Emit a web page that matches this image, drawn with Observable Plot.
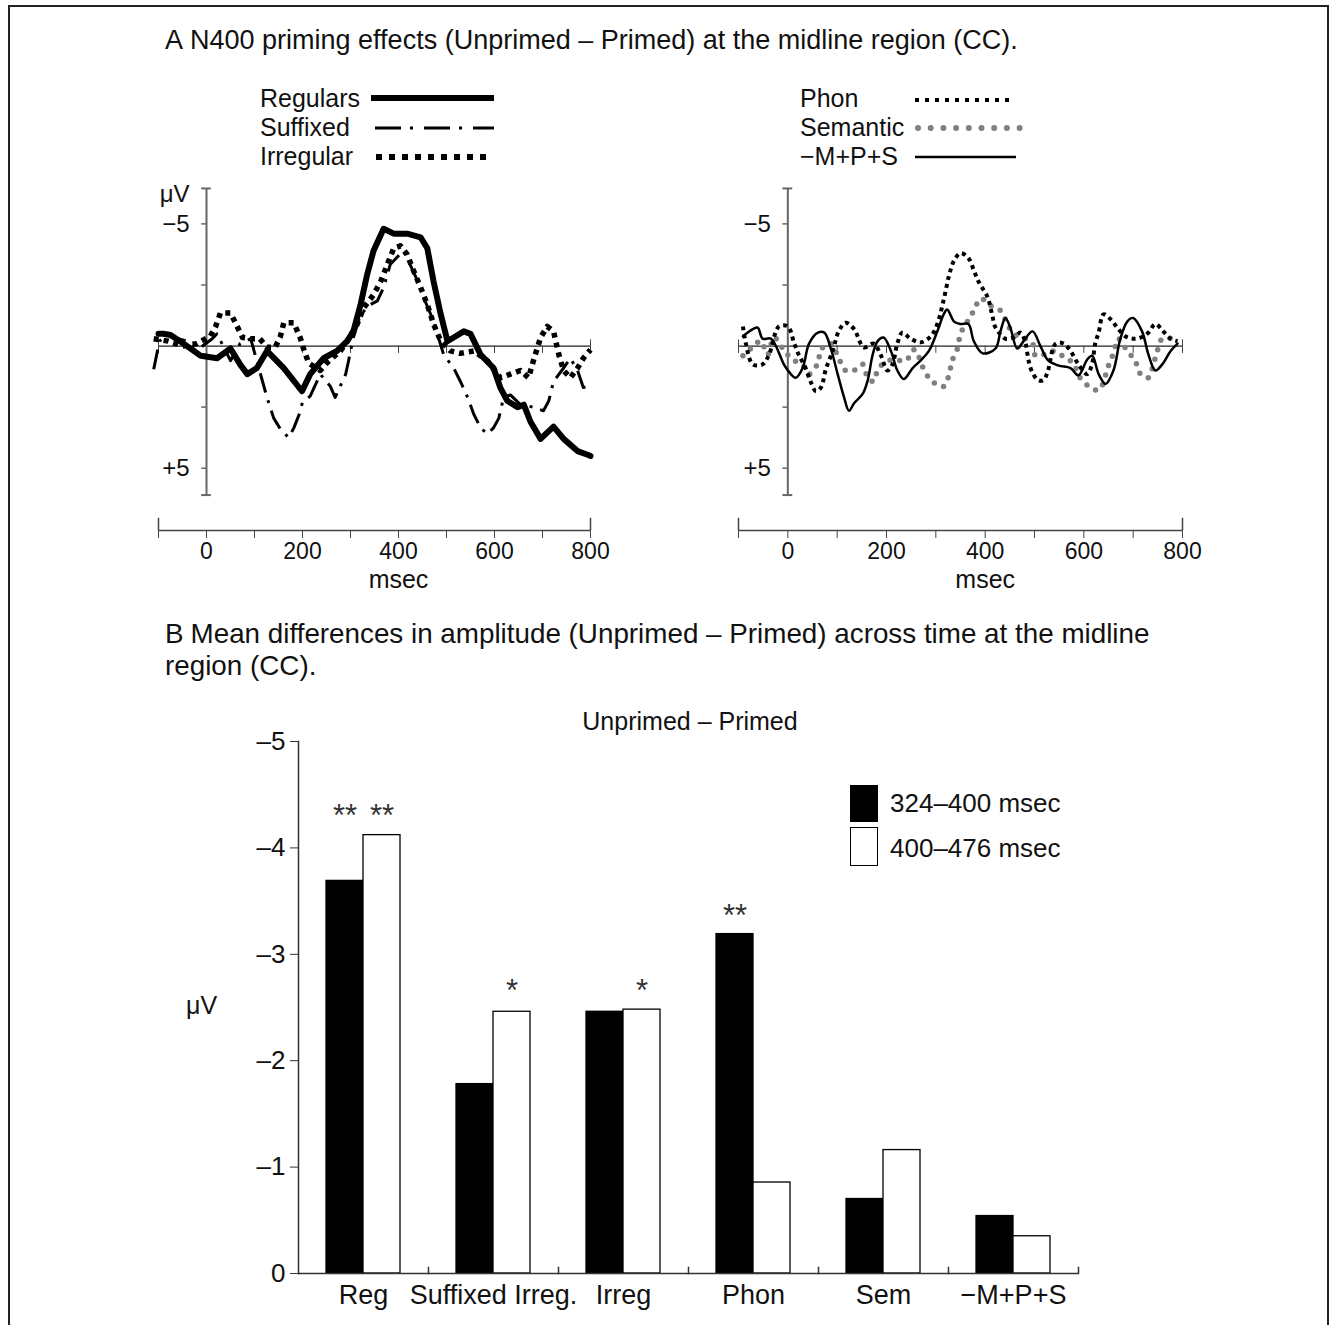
<!DOCTYPE html>
<html><head><meta charset="utf-8">
<script src="https://cdn.jsdelivr.net/npm/d3@7"></script>
<script src="https://cdn.jsdelivr.net/npm/@observablehq/plot@0.6"></script>
<style>
body{margin:0;background:#fff;font-family:"Liberation Sans",Arial,sans-serif;color:#111;}
#fig{position:relative;width:1335px;height:1325px;overflow:hidden;background:#fff;}
.t{position:absolute;white-space:nowrap;line-height:28px;}
#border{position:absolute;left:8px;top:5px;width:1317px;height:1400px;border:2px solid #222;}
</style></head><body><div id="fig">
<div id="border"></div>
<div class="t" style="left:165px;top:25px;font-size:27px;line-height:30px;"><span style="margin-right:7px">A</span>N400 priming effects (Unprimed – Primed) at the midline region (CC).</div>
<div class="t" style="left:260px;top:84px;font-size:25px;">Regulars</div>
<div class="t" style="left:260px;top:113px;font-size:25px;">Suffixed</div>
<div class="t" style="left:260px;top:142px;font-size:25px;">Irregular</div>
<div class="t" style="left:800px;top:84px;font-size:25px;">Phon</div>
<div class="t" style="left:800px;top:113px;font-size:25px;">Semantic</div>
<div class="t" style="left:800px;top:142px;font-size:25px;">−M+P+S</div>
<svg style="position:absolute;left:0;top:0" width="1335" height="180">
<line x1="371" x2="494" y1="98" y2="98" stroke="#000" stroke-width="6"/>
<line x1="375" x2="494" y1="128" y2="128" stroke="#000" stroke-width="3" stroke-dasharray="26,9,3,11"/>
<line x1="376" x2="492" y1="157" y2="157" stroke="#000" stroke-width="6" stroke-dasharray="6,7"/>
<line x1="915" x2="1014" y1="100" y2="100" stroke="#000" stroke-width="4" stroke-dasharray="4,6"/>
<line x1="918" x2="1020" y1="128" y2="128" stroke="#808080" stroke-width="6" stroke-linecap="round" stroke-dasharray="0,12.7"/>
<line x1="915" x2="1016" y1="157" y2="157" stroke="#000" stroke-width="2.5"/>
</svg>
<div class="t" style="left:165px;top:618px;font-size:27.8px;line-height:32px;"><span style="margin-right:7px">B</span>Mean differences in amplitude (Unprimed – Primed) across time at the midline<br>region (CC).</div>
<div class="t" style="left:540px;top:707px;width:300px;text-align:center;font-size:25px;">Unprimed – Primed</div>
<div class="t" style="left:186px;top:991px;font-size:25px;">μV</div>
<div style="position:absolute;left:850px;top:785px;width:28px;height:37px;background:#000;"></div>
<div style="position:absolute;left:850px;top:827px;width:26px;height:37px;background:#fff;border:1.5px solid #000;"></div>
<div class="t" style="left:890px;top:789px;font-size:26px;">324–400 msec</div>
<div class="t" style="left:890px;top:834px;font-size:26px;">400–476 msec</div>
</div>
<script>
// ---------- Panel A data (time in msec, amplitude in μV; negative plotted up) ----------
const regT = [-100,-90,-75,-48,-26,-12,22,50,70,85,105,126,161,199,216,244,272,293,306,321,335,348,369,390,418,446,460,473,488,502,515,536,550,571,598,612,627,648,661,675,696,723,744,773,794,800];
const regV = [-0.5,-0.5,-0.45,-0.1,0.2,0.4,0.5,0.1,0.75,1.15,0.9,0.2,0.9,1.85,1.15,0.5,0.2,-0.2,-0.6,-1.7,-2.95,-3.9,-4.8,-4.6,-4.6,-4.45,-4.0,-2.65,-1.3,-0.2,-0.35,-0.6,-0.5,0.35,0.9,1.7,2.25,2.5,2.4,3.1,3.8,3.3,3.8,4.3,4.45,4.5];

const sufT = [-110,-98,-80,-60,-40,-15,12,22,50,70,92,116,126,140,154,171,182,193,200,216,237,258,268,290,296,306,321,342,356,369,383,410,418,440,452,467,481,494,515,529,544,557,571,585,598,609,619,633,654,681,702,713,723,744,758,773,785,800];
const sufV = [0.95,-0.2,-0.5,-0.3,-0.2,0.1,-0.3,-0.5,0.6,-0.1,-0.3,1.4,2.1,2.95,3.4,3.75,3.35,2.8,2.3,2.05,1.15,1.65,2.1,1.15,0.6,-0.35,-1.3,-1.7,-1.85,-2.4,-3.35,-3.9,-3.6,-2.65,-2.0,-1.3,-0.5,0.35,0.9,1.45,2.1,2.8,3.35,3.6,3.35,2.95,2.1,2.0,2.4,2.5,2.65,2.25,1.45,0.9,0.5,1.0,1.7,1.6];

const irrT = [-110,-80,-50,-20,8,19,29,50,64,75,93,111,126,143,154,161,182,196,202,213,237,250,279,293,314,327,348,363,377,390,404,418,431,446,460,473,488,508,529,557,585,612,633,654,671,681,696,710,723,734,744,758,773,785,800];
const irrV = [-0.3,-0.2,0,-0.1,-0.4,-0.8,-1.35,-1.35,-0.8,-0.35,-0.3,-0.3,0.05,0.05,-0.4,-0.95,-0.95,-0.3,0.1,0.7,1.0,0.7,0.2,-0.2,-0.9,-1.55,-2.1,-2.65,-3.35,-4.0,-4.1,-3.75,-3.1,-2.4,-1.7,-0.9,-0.2,0.2,0.3,0.2,0.6,1.3,1.15,1.0,1.3,0.6,-0.35,-0.8,-0.6,0.35,1.0,1.3,0.9,0.5,0.15];

const phT = [-91,-85,-71,-51,-38,-18,0,13,22,36,47,57,67,77,91,103,117,134,154,174,188,202,212,222,232,249,269,290,303,316,327,337,350,366,377,385,395,405,415,420,432,441,458,472,482,488,496,508,518,526,543,559,573,589,607,617,623,630,640,654,668,684,700,716,731,745,761,776,790];
const phV = [-0.8,-0.1,0.75,0.75,0.35,-0.8,-0.8,-0.1,0.35,0.9,1.5,1.85,1.7,0.95,0.2,-0.6,-0.95,-0.7,0.05,-0.1,0.35,1.0,0.75,-0.1,-0.55,-0.3,-0.15,-0.4,-0.9,-1.9,-2.9,-3.5,-3.8,-3.6,-3.1,-2.7,-2.35,-2.0,-1.2,-0.8,-0.45,-0.3,-0.35,-0.55,-0.1,0.6,1.1,1.4,1.4,1.1,-0.1,-0.1,0.2,0.75,1.15,0.7,-0.1,-0.55,-1.3,-1.1,-0.75,-0.4,-0.3,-0.35,-0.55,-0.9,-0.6,-0.3,-0.2];

const semT = [-91,-75,-55,-41,-28,-10,6,30,43,61,67,87,103,117,134,152,162,174,184,212,239,256,279,296,316,327,333,344,350,364,377,391,411,431,445,458,476,496,502,519,539,563,579,589,607,630,650,660,670,688,704,715,731,741,749,759,782];
const semV = [0.4,0.1,-0.2,0.35,-0.35,0.1,0.5,0.8,1.15,0.7,0.15,-0.1,0.5,1.0,1.0,0.75,1.3,1.45,0.9,0.55,0.6,0.15,1.1,1.5,1.65,1.15,0.6,0.1,-0.5,-1.0,-1.45,-1.95,-1.65,-1.45,-0.9,-0.5,-0.35,-0.1,0.4,0.35,0.2,0.5,0.7,1.2,1.6,1.8,0.8,0.3,-0.3,0.2,0.6,1.15,1.3,0.75,0.2,-0.3,-0.3];

const mpsT = [-91,-70,-61,-51,-34,-8,2,16,30,43,61,74,87,101,114,124,134,152,162,172,182,194,209,222,235,253,269,286,303,316,323,337,350,366,377,395,421,431,441,451,465,478,496,512,528,549,573,589,607,617,630,644,660,674,688,700,718,731,745,759,776,790];
const mpsV = [-0.4,-0.7,-0.75,-0.3,-0.3,0.75,1.05,1.3,0.9,-0.1,-0.55,-0.55,0.1,1.15,2.1,2.65,2.35,1.95,1.4,0.35,-0.2,-0.35,0.2,1.0,1.35,0.9,0.6,0.2,-0.6,-1.3,-1.5,-1.0,-0.9,-0.9,-0.2,0.3,0.1,-0.6,-1.15,-0.75,0.1,-0.2,-0.6,0.0,0.6,0.8,0.9,1.2,0.55,0.4,1.15,1.55,1.0,-0.3,-1.0,-1.15,-0.6,0.35,1.0,0.75,0.2,-0.1];

const timeTicks = [-100,0,100,200,300,400,500,600,700,800];
const timeEnds = [-100, 800];
const ampTicks = [-5,-2.5,2.5,5];
const ampLabelVals = [-5, 5];
const ampLabels = ["−5", "+5"];

// ---------- Panel B data ----------
const cats = ["Reg", "Suffixed Irreg.", "Irreg", "Phon", "Sem", "−M+P+S"];
const periods = ["324–400 msec", "400–476 msec"];
const early = [-3.69, -1.78, -2.46, -3.19, -0.70, -0.54];
const late  = [-4.12, -2.46, -2.48, -0.855, -1.16, -0.35];
const barTicks = [-5,-4,-3,-2,-1,0];
const starCats = ["Reg", "Reg", "Suffixed Irreg.", "Irreg", "Phon"];
const starPeriods = [periods[0], periods[1], periods[1], periods[1], periods[0]];
const starVals = [-4.3, -4.3, -2.65, -2.65, -3.36];
const starText = ["**", "**", "*", "*", "**"];

// ---------- build ----------
const fig = document.getElementById("fig");
const FONT = "'Liberation Sans', Arial, sans-serif";
function place(node, left, top) {
  const d = document.createElement("div");
  d.style.position = "absolute"; d.style.left = left + "px"; d.style.top = top + "px";
  d.appendChild(node); fig.appendChild(d);
}
const pts = (T, V) => T.map((t, i) => ({t, v: V[i]}));

const yBottom = 7.55, yTop = -6.55;       // scale domain (time axis sits at yBottom)
const axTop = -6.45, axBottom = 6.1;      // extent of the vertical μV axis

function erpPlot(width, lineMarks, showUnit) {
  return Plot.plot({
    width, height: 430, marginLeft: 58, marginRight: 40, marginTop: 10.5, marginBottom: 75,
    x: {domain: [-100, 800], label: null},
    y: {domain: [yBottom, yTop], axis: null, label: null},
    style: {fontFamily: FONT, fontSize: "23px", background: "transparent", overflow: "visible", color: "#111"},
    marks: [
      // time axis below
      Plot.ruleY([yBottom], {stroke: "#444", strokeWidth: 1.5}),
      Plot.ruleX(timeEnds, {y1: yBottom - 0.5, y2: yBottom, stroke: "#444", strokeWidth: 1.5}),
      Plot.axisX({ticks: timeTicks, tickSize: 8, tickPadding: 4, label: null, stroke: "#444",
        tickFormat: d => (d >= 0 && d % 200 === 0) ? String(d) : ""}),
      Plot.text(["msec"], {x: 400, frameAnchor: "bottom", dy: 57, fontSize: 25, fill: "#111"}),
      // zero line with small ticks
      Plot.ruleY([0], {stroke: "#222", strokeWidth: 1.2}),
      Plot.ruleX(timeTicks, {y1: 0, y2: 0.3, stroke: "#444"}),
      Plot.ruleX(timeEnds, {y1: -0.25, y2: 0.3, stroke: "#444"}),
      // vertical amplitude axis at t = 0
      Plot.ruleX([0], {y1: axTop, y2: axBottom, stroke: "#666", strokeWidth: 2}),
      Plot.ruleY([axTop, axBottom], {x1: -10, x2: 10, stroke: "#666", strokeWidth: 2}),
      Plot.ruleY(ampTicks, {x1: -10, x2: 0, stroke: "#666", strokeWidth: 1.5}),
      Plot.text(ampLabelVals, {x: 0, y: d => d, text: (d, i) => ampLabels[i], dx: -17, textAnchor: "end", fontSize: 24, fill: "#111"}),
      showUnit ? Plot.text(["μV"], {x: 0, y: -6.2, dx: -17, textAnchor: "end", fontSize: 24, fill: "#111"}) : null,
      ...lineMarks
    ]
  });
}

const left = erpPlot(530, [
  Plot.line(pts(sufT, sufV), {x: "t", y: "v", stroke: "#000", strokeWidth: 3, strokeLinecap: "butt", strokeDasharray: "20,8,3,8"}),
  Plot.line(pts(irrT, irrV), {x: "t", y: "v", stroke: "#000", strokeWidth: 5.5, strokeLinecap: "butt", strokeDasharray: "5,5"}),
  Plot.line(pts(regT, regV), {x: "t", y: "v", stroke: "#000", strokeWidth: 6, strokeLinejoin: "round"})
], true);
place(left, 100, 175);

const right = erpPlot(542, [
  Plot.line(pts(semT, semV), {x: "t", y: "v", stroke: "#808080", strokeWidth: 5.5, strokeLinecap: "round", strokeDasharray: "0,10", curve: "catmull-rom"}),
  Plot.line(pts(phT, phV), {x: "t", y: "v", stroke: "#000", strokeWidth: 4, strokeLinecap: "butt", strokeDasharray: "4,4", curve: "catmull-rom"}),
  Plot.line(pts(mpsT, mpsV), {x: "t", y: "v", stroke: "#000", strokeWidth: 2.5, curve: "catmull-rom"})
], false);
place(right, 680, 175);

// ---------- Panel B ----------
const barRows = cats.flatMap((c, i) => [
  {cat: c, period: periods[0], value: early[i]},
  {cat: c, period: periods[1], value: late[i]}
]);
const stars = starCats.map((c, i) => ({cat: c, period: starPeriods[i], y: starVals[i], s: starText[i]}));

const bars = Plot.plot({
  width: 908, height: 623, marginLeft: 98, marginRight: 30, marginTop: 41, marginBottom: 50,
  fx: {domain: cats, padding: 0, label: null},
  x: {domain: periods, paddingInner: 0, paddingOuter: 0.733, axis: null, label: null},
  y: {domain: [0, -5], label: null},
  color: {domain: periods, range: ["#000", "#fff"]},
  style: {fontFamily: FONT, fontSize: "26px", background: "transparent", overflow: "visible", color: "#111"},
  marks: [
    Plot.axisY({ticks: barTicks, tickSize: 8, tickPadding: 5, label: null, stroke: "#333",
      tickFormat: d => d === 0 ? "0" : "–" + (-d)}),
    Plot.axisFx({anchor: "bottom", tickSize: 0, tickPadding: 11, label: null, fontSize: 27}),
    Plot.frame({anchor: "left", facetAnchor: "left", stroke: "#333", strokeWidth: 1.5}),
    Plot.frame({anchor: "right", insetTop: 526, stroke: "#333", strokeWidth: 1.5}),
    Plot.barY(barRows, {fx: "cat", x: "period", y: "value", fill: "period", stroke: "#000", strokeWidth: 1.3, inset: 0}),
    Plot.ruleY([0], {stroke: "#333", strokeWidth: 1.5}),
    Plot.text(stars, {fx: "cat", x: "period", y: "y", text: "s", fontSize: 31, fill: "#333", letterSpacing: "2px"})
  ]
});
place(bars, 200, 700);
</script>
</body></html>
